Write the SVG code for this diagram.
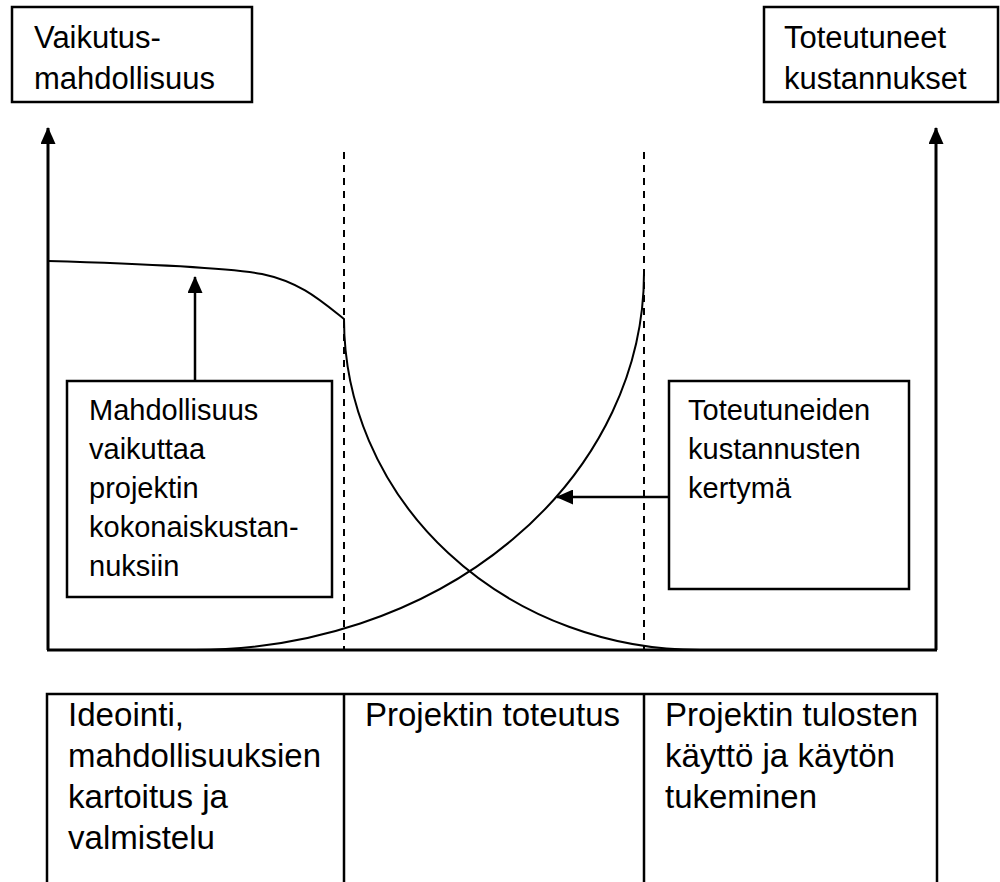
<svg xmlns="http://www.w3.org/2000/svg" width="1000" height="882" viewBox="0 0 1000 882">
  <style>
    .box { fill: #fff; stroke: #000; stroke-width: 2.5; }
    .lbl { font-family: "Liberation Sans", Arial, sans-serif; fill: #000; }
    .big { font-size: 31px; }
    .mid { font-size: 29px; }
    .tbl { font-size: 34px; }
    .axis { fill: none; stroke: #000; stroke-width: 3; }
    .curve { fill: none; stroke: #000; stroke-width: 2; }
    .dash { fill: none; stroke: #000; stroke-width: 2; stroke-dasharray: 7 6; }
    .ptr { fill: none; stroke: #000; stroke-width: 2.5; }
    .grid { fill: none; stroke: #000; stroke-width: 2.5; }
  </style>
  <defs>
    <marker id="head" markerUnits="userSpaceOnUse" markerWidth="17" markerHeight="15" refX="16" refY="7.5" orient="auto">
      <path d="M0,0 L17,7.5 L0,15 z" fill="#000"/>
    </marker>
  </defs>
  <rect width="1000" height="882" fill="#fff"/>

  <!-- axis titles -->
  <g id="title-left">
    <rect class="box" x="12" y="7" width="240" height="95"/>
    <text class="lbl big" x="34" y="48">Vaikutus-</text>
    <text class="lbl big" x="34" y="89">mahdollisuus</text>
  </g>
  <g id="title-right">
    <rect class="box" x="764" y="7" width="234" height="95"/>
    <text class="lbl big" x="784" y="48">Toteutuneet</text>
    <text class="lbl big" x="784" y="89">kustannukset</text>
  </g>

  <!-- axes, phase boundaries and curves -->
  <g id="connectors">
    <path class="axis" d="M48,650 V128" marker-end="url(#head)"/>
    <path class="axis" d="M936,650 V128" marker-end="url(#head)"/>
    <path class="axis" d="M47,650 H937"/>
    <path class="dash" d="M344,152 V650"/>
    <path class="dash" d="M644,152 V650"/>
    <!-- influence potential, falling -->
    <path class="curve" d="M48,261 C150,264 230,268 262,274 C300,282 320,300 344,319 A356,331 0 0 0 700,650"/>
    <!-- accumulated costs, rising -->
    <path class="curve" d="M195,650 A449,377 0 0 0 644,273"/>
    <!-- pointers from the notes -->
    <path class="ptr" d="M195,381 V277" marker-end="url(#head)"/>
    <path class="ptr" d="M669,497 H557" marker-end="url(#head)"/>
  </g>

  <g id="note-influence">
    <rect class="box" x="67" y="381" width="265" height="216"/>
    <text class="lbl mid" x="89" y="420">Mahdollisuus</text>
    <text class="lbl mid" x="89" y="459">vaikuttaa</text>
    <text class="lbl mid" x="89" y="498">projektin</text>
    <text class="lbl mid" x="89" y="537">kokonaiskustan-</text>
    <text class="lbl mid" x="89" y="576">nuksiin</text>
  </g>
  <g id="note-costs">
    <rect class="box" x="669" y="381" width="240" height="208"/>
    <text class="lbl mid" x="688" y="420">Toteutuneiden</text>
    <text class="lbl mid" x="688" y="459">kustannusten</text>
    <text class="lbl mid" x="688" y="498">kertymä</text>
  </g>

  <!-- phase table -->
  <g id="phase-table">
    <path class="grid" d="M47,882 V694 H937 V882 M344,694 V882 M644,694 V882"/>
  </g>
  <g id="phase-1">
    <text class="lbl tbl" x="68" y="726" textLength="116" lengthAdjust="spacingAndGlyphs">Ideointi,</text>
    <text class="lbl tbl" x="68" y="767" textLength="253" lengthAdjust="spacingAndGlyphs">mahdollisuuksien</text>
    <text class="lbl tbl" x="68" y="808" textLength="160" lengthAdjust="spacingAndGlyphs">kartoitus ja</text>
    <text class="lbl tbl" x="68" y="849" textLength="147" lengthAdjust="spacingAndGlyphs">valmistelu</text>
  </g>
  <g id="phase-2">
    <text class="lbl tbl" x="365" y="726" textLength="255" lengthAdjust="spacingAndGlyphs">Projektin toteutus</text>
  </g>
  <g id="phase-3">
    <text class="lbl tbl" x="665" y="726" textLength="253" lengthAdjust="spacingAndGlyphs">Projektin tulosten</text>
    <text class="lbl tbl" x="665" y="767" textLength="230" lengthAdjust="spacingAndGlyphs">käyttö ja käytön</text>
    <text class="lbl tbl" x="665" y="808" textLength="152" lengthAdjust="spacingAndGlyphs">tukeminen</text>
  </g>
</svg>
